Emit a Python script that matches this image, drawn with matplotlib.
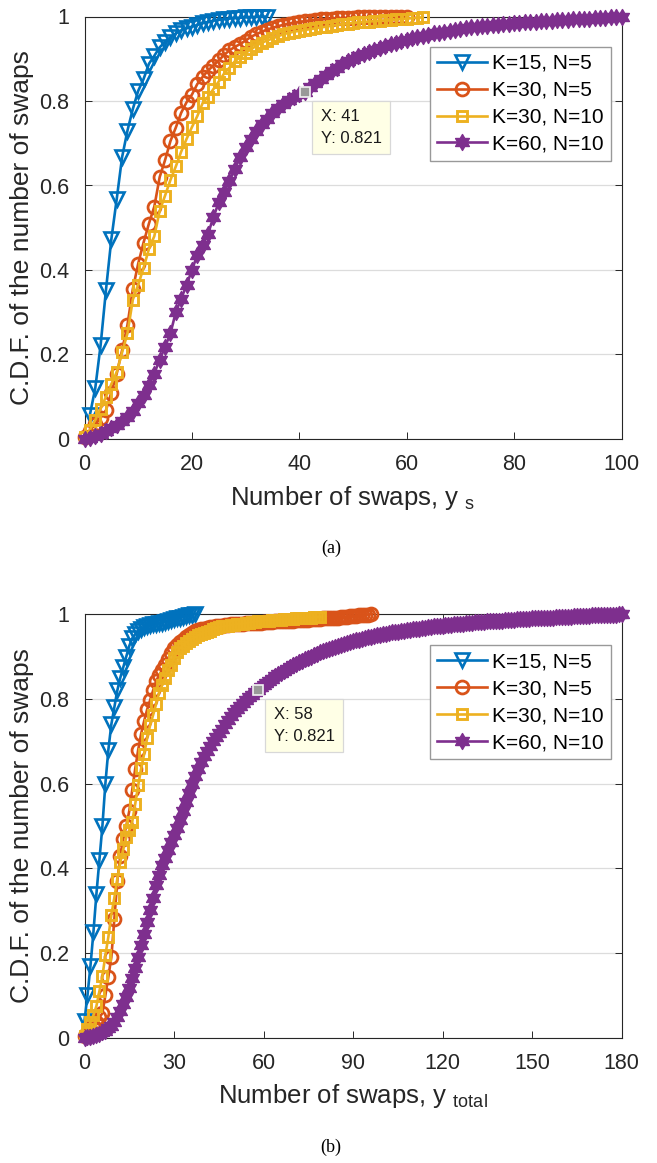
import matplotlib
matplotlib.use("Agg")
import numpy as np
import matplotlib.pyplot as plt
from matplotlib.path import Path

plt.rcParams['font.family'] = ['Liberation Sans', 'DejaVu Sans']
plt.rcParams['mathtext.fontset'] = 'custom'
plt.rcParams['mathtext.rm'] = 'Liberation Sans'
plt.rcParams['mathtext.it'] = 'Liberation Sans'

# ---------------- data: panel (a) ----------------
a_blue_x = list(range(1, 35))
a_blue_y = [0.057, 0.12, 0.222, 0.353, 0.473, 0.568, 0.667, 0.73, 0.781, 0.824,
            0.852, 0.888, 0.907, 0.927, 0.94, 0.951, 0.96, 0.967, 0.972, 0.976,
            0.98, 0.984, 0.987, 0.99, 0.992, 0.994, 0.995, 0.996, 0.997, 0.998,
            0.998, 0.999, 0.999, 1.0]

a_orange_x = list(range(0, 61))
a_orange_y = [0.005, 0.02, 0.035, 0.05, 0.068, 0.11, 0.155, 0.21, 0.27, 0.355,
              0.415, 0.465, 0.51, 0.55, 0.62, 0.66, 0.705, 0.737, 0.772, 0.797,
              0.815, 0.84, 0.857, 0.872, 0.884, 0.896, 0.909, 0.92, 0.928, 0.935,
              0.943, 0.952, 0.958, 0.964, 0.969, 0.973, 0.977, 0.98, 0.983, 0.985,
              0.987, 0.989, 0.99, 0.992, 0.993, 0.994, 0.995, 0.996, 0.996, 0.997,
              0.997, 0.998, 0.998, 0.998, 0.999, 0.999, 0.999, 0.999, 1.0, 1.0, 1.0]

a_yellow_x = list(range(0, 64))
a_yellow_y = [0.005, 0.022, 0.045, 0.072, 0.1, 0.13, 0.158, 0.205, 0.25, 0.33,
              0.365, 0.405, 0.45, 0.48, 0.54, 0.576, 0.613, 0.645, 0.68, 0.71,
              0.738, 0.764, 0.795, 0.81, 0.828, 0.846, 0.865, 0.879, 0.894, 0.904,
              0.914, 0.922, 0.931, 0.938, 0.943, 0.948, 0.953, 0.958, 0.961, 0.964,
              0.966, 0.968, 0.97, 0.972, 0.974, 0.976, 0.978, 0.98, 0.982, 0.983,
              0.985, 0.986, 0.987, 0.988, 0.989, 0.99, 0.991, 0.992, 0.993, 0.994,
              0.995, 0.996, 0.997, 0.998]

a_purple_x = list(range(0, 101))
a_purple_y = [0.0, 0.002, 0.006, 0.012, 0.018, 0.025, 0.033, 0.043, 0.053, 0.066,
              0.085, 0.103, 0.127, 0.155, 0.188, 0.218, 0.25, 0.3, 0.332, 0.364,
              0.4, 0.435, 0.46, 0.485, 0.525, 0.56, 0.585, 0.61, 0.64, 0.667,
              0.69, 0.71, 0.73, 0.745, 0.758, 0.771, 0.783, 0.794, 0.803, 0.81,
              0.816, 0.821, 0.832, 0.843, 0.853, 0.862, 0.871, 0.879, 0.887, 0.894,
              0.9, 0.906, 0.911, 0.916, 0.921, 0.926, 0.93, 0.934, 0.938, 0.942,
              0.945, 0.948, 0.951, 0.954, 0.957, 0.96, 0.962, 0.964, 0.966, 0.968,
              0.97, 0.972, 0.974, 0.975, 0.977, 0.978, 0.979, 0.981, 0.982, 0.983,
              0.984, 0.985, 0.986, 0.987, 0.988, 0.989, 0.989, 0.99, 0.991, 0.992,
              0.992, 0.993, 0.994, 0.994, 0.995, 0.996, 0.996, 0.997, 0.998, 0.999,
              1.0]

a_tip_x = 41
a_tip_y = 0.821

# ---------------- data: panel (b) ----------------
b_blue_x = list(range(0, 38))
b_blue_y = [0.04, 0.1, 0.17, 0.25, 0.34, 0.42, 0.5, 0.6, 0.68, 0.74,
            0.78, 0.82, 0.85, 0.875, 0.9, 0.925, 0.943, 0.953, 0.96, 0.966,
            0.97, 0.972, 0.974, 0.976, 0.977, 0.979, 0.98, 0.982, 0.984, 0.986,
            0.988, 0.99, 0.992, 0.994, 0.996, 0.997, 0.999, 1.0]

b_orange_x = list(range(0, 97))
b_orange_y = [0.005, 0.012, 0.02, 0.028, 0.038, 0.048, 0.058, 0.1, 0.144, 0.19,
              0.28, 0.37, 0.43, 0.47, 0.5, 0.535, 0.585, 0.635, 0.68, 0.718,
              0.748, 0.775, 0.797, 0.82, 0.842, 0.856, 0.868, 0.88, 0.895, 0.908,
              0.92, 0.928, 0.934, 0.94, 0.946, 0.951, 0.956, 0.96, 0.962, 0.964,
              0.966, 0.968, 0.969, 0.97, 0.971, 0.972, 0.973, 0.974, 0.975, 0.976,
              0.977, 0.977, 0.978, 0.978, 0.979, 0.979, 0.979, 0.98, 0.98, 0.98,
              0.981, 0.981, 0.982, 0.982, 0.983, 0.983, 0.983, 0.984, 0.984, 0.985,
              0.985, 0.986, 0.986, 0.986, 0.987, 0.987, 0.988, 0.988, 0.989, 0.989,
              0.99, 0.99, 0.991, 0.991, 0.992, 0.992, 0.993, 0.993, 0.994, 0.995,
              0.996, 0.996, 0.997, 0.998, 0.999, 0.999, 1.0]

b_yellow_x = list(range(0, 80))
b_yellow_y = [0.005, 0.02, 0.037, 0.053, 0.075, 0.11, 0.145, 0.195, 0.238, 0.29,
              0.33, 0.375, 0.415, 0.445, 0.473, 0.49, 0.51, 0.552, 0.596, 0.636,
              0.67, 0.707, 0.738, 0.762, 0.788, 0.815, 0.832, 0.85, 0.868, 0.88,
              0.897, 0.91, 0.92, 0.926, 0.932, 0.937, 0.942, 0.946, 0.95, 0.953,
              0.956, 0.958, 0.961, 0.964, 0.967, 0.969, 0.971, 0.972, 0.973, 0.974,
              0.975, 0.976, 0.977, 0.978, 0.979, 0.98, 0.981, 0.982, 0.983, 0.984,
              0.984, 0.985, 0.985, 0.986, 0.986, 0.987, 0.987, 0.988, 0.988, 0.989,
              0.989, 0.99, 0.99, 0.991, 0.991, 0.992, 0.992, 0.993, 0.993, 0.994]

b_purple_x = list(range(0, 181))
b_purple_y = [0.0, 0.001, 0.002, 0.004, 0.006, 0.009, 0.013, 0.017, 0.022, 0.028,
              0.036, 0.048, 0.064, 0.08, 0.097, 0.117, 0.14, 0.164, 0.19, 0.218,
              0.245, 0.273, 0.302, 0.33, 0.36, 0.385, 0.407, 0.425, 0.443, 0.461,
              0.478, 0.495, 0.515, 0.536, 0.557, 0.578, 0.6, 0.618, 0.635, 0.65,
              0.664, 0.676, 0.688, 0.7, 0.711, 0.72, 0.73, 0.74, 0.749, 0.759,
              0.768, 0.776, 0.784, 0.791, 0.798, 0.804, 0.81, 0.816, 0.821, 0.827,
              0.832, 0.838, 0.843, 0.848, 0.853, 0.858, 0.862, 0.866, 0.871, 0.875,
              0.879, 0.883, 0.887, 0.89, 0.894, 0.897, 0.9, 0.904, 0.907, 0.91,
              0.913, 0.915, 0.918, 0.92, 0.923, 0.925, 0.927, 0.93, 0.932, 0.934,
              0.936, 0.938, 0.94, 0.942, 0.943, 0.945, 0.947, 0.948, 0.95, 0.951,
              0.953, 0.954, 0.955, 0.957, 0.958, 0.959, 0.96, 0.961, 0.962, 0.963,
              0.964, 0.965, 0.966, 0.967, 0.968, 0.969, 0.97, 0.971, 0.972, 0.972,
              0.973, 0.974, 0.975, 0.975, 0.976, 0.977, 0.977, 0.978, 0.979, 0.979,
              0.98, 0.981, 0.981, 0.982, 0.982, 0.983, 0.983, 0.984, 0.984, 0.985,
              0.985, 0.986, 0.986, 0.987, 0.987, 0.988, 0.988, 0.988, 0.989, 0.989,
              0.99, 0.99, 0.99, 0.991, 0.991, 0.992, 0.992, 0.992, 0.993, 0.993,
              0.993, 0.994, 0.994, 0.994, 0.995, 0.995, 0.995, 0.996, 0.996, 0.996,
              0.997, 0.997, 0.997, 0.998, 0.998, 0.998, 0.999, 0.999, 0.999, 1.0,
              1.0]

b_tip_x = 58
b_tip_y = 0.821

labels = ['K=15, N=5', 'K=30, N=5', 'K=30, N=10', 'K=60, N=10']
y_ticks = [0, 0.2, 0.4, 0.6, 0.8, 1]
y_ticklabels = ['0', '0.2', '0.4', '0.6', '0.8', '1']
a_xticks = [0, 20, 40, 60, 80, 100]
b_xticks = [0, 30, 60, 90, 120, 150, 180]

C_BLUE = '#0072BD'
C_ORANGE = '#D95319'
C_YELLOW = '#EDB120'
C_PURPLE = '#7E2F8E'
AXC = '#262626'

W, H = 657, 1163
fig = plt.figure(figsize=(W / 100, H / 100), dpi=100)

# MATLAB-like hexagram marker shape (six-pointed star, inner radius 1/sqrt(3))
_ang = np.pi / 2 + np.arange(12) * np.pi / 6
_rad = np.where(np.arange(12) % 2 == 0, 1.0, 1 / np.sqrt(3))
_verts = np.column_stack([_rad * np.cos(_ang), _rad * np.sin(_ang)])
_verts = np.vstack([_verts, _verts[:1]])
HEXAGRAM = Path(_verts, closed=True)


def draw_panel(ax, series, xlim, xticks, xlabel, tip, tip_text, legend_anchor):
    (bx, by), (ox, oy), (yx, yy), (px, py) = series
    lw = 1.9
    ax.plot(bx, by, color=C_BLUE, lw=lw, marker='v', ms=10.5, mfc='none',
            mec=C_BLUE, mew=1.9, clip_on=False, zorder=3, label=labels[0])
    ax.plot(ox, oy, color=C_ORANGE, lw=lw, marker='o', ms=9.3, mfc='none',
            mec=C_ORANGE, mew=2.0, clip_on=False, zorder=4, label=labels[1])
    ax.plot(yx, yy, color=C_YELLOW, lw=lw, marker='s', ms=7.6, mfc='none',
            mec=C_YELLOW, mew=2.1, clip_on=False, zorder=5, label=labels[2])
    ax.plot(px, py, color=C_PURPLE, lw=lw, marker=HEXAGRAM, ms=11.5, mfc=C_PURPLE,
            mec=C_PURPLE, mew=1.0, clip_on=False, zorder=6, label=labels[3])

    ax.set_xlim(*xlim)
    ax.set_ylim(0, 1)
    ax.set_xticks(xticks)
    ax.set_xticklabels([str(t) for t in xticks])
    ax.set_yticks(y_ticks)
    ax.set_yticklabels(y_ticklabels)
    ax.yaxis.grid(True, color='#DCDCDC', lw=0.9)
    ax.xaxis.grid(False)
    ax.set_axisbelow(True)
    ax.tick_params(direction='in', top=True, right=True, length=5, width=0.7,
                   colors=AXC, labelsize=15.5)
    ax.tick_params(axis='y', pad=11)
    ax.tick_params(axis='x', pad=11)
    for s in ax.spines.values():
        s.set_color(AXC)
        s.set_linewidth(0.8)
    ax.set_ylabel('C.D.F. of the number of swaps', fontsize=19, color=AXC, labelpad=4)
    ax.set_xlabel(xlabel, fontsize=18.5, color=AXC, labelpad=6)

    # data tip
    tx, ty = tip
    ax.plot([tx], [ty], marker='s', ms=7.5, mfc='#999999', mec='#F2F2F2', mew=1.2,
            ls='none', clip_on=False, zorder=8)
    ax.annotate(tip_text, xy=(tx, ty), xytext=(11.5, -12.5), textcoords='offset points',
                ha='left', va='top', fontsize=12, color='#1A1A1A', linespacing=1.55,
                zorder=9,
                bbox=dict(boxstyle='square,pad=0.5', fc='#FFFFE6', ec='#D8D8D8', lw=0.9))

    leg = ax.legend(loc='upper right', bbox_to_anchor=legend_anchor,
                    bbox_transform=fig.transFigure, borderaxespad=0,
                    fontsize=15, handlelength=2.4, handletextpad=0.25,
                    labelspacing=0.38, borderpad=0.35, numpoints=1,
                    fancybox=False, framealpha=1, edgecolor='#999999')
    leg.get_frame().set_linewidth(1.0)
    leg.set_zorder(10)


ax1 = fig.add_axes([84.5 / W, 1 - 439 / H, 537 / W, (439 - 16.5) / H])
draw_panel(ax1,
           [(a_blue_x, a_blue_y), (a_orange_x, a_orange_y),
            (a_yellow_x, a_yellow_y), (a_purple_x, a_purple_y)],
           (0, 100), a_xticks, r'Number of swaps, y $_{\mathrm{s}}$',
           (a_tip_x, a_tip_y), 'X: 41\nY: 0.821',
           (611 / W, 1 - 46.7 / H))

ax2 = fig.add_axes([84.5 / W, 1 - 1037.7 / H, 537 / W, (1037.7 - 614.2) / H])
draw_panel(ax2,
           [(b_blue_x, b_blue_y), (b_orange_x, b_orange_y),
            (b_yellow_x, b_yellow_y), (b_purple_x, b_purple_y)],
           (0, 180), b_xticks, r'Number of swaps, y $_{\mathrm{total}}$',
           (b_tip_x, b_tip_y), 'X: 58\nY: 0.821',
           (611 / W, 1 - 645 / H))

fig.text(331 / W, 1 - 548 / H, '(a)', ha='center', va='center', fontsize=13,
         family=['Liberation Serif', 'DejaVu Serif'], color='black')
fig.text(331 / W, 1 - 1147 / H, '(b)', ha='center', va='center', fontsize=13,
         family=['Liberation Serif', 'DejaVu Serif'], color='black')

fig.savefig('out.png', dpi=100)
